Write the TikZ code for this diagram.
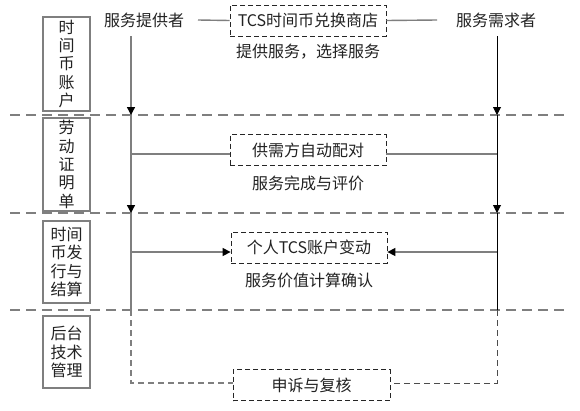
\documentclass[tikz,border=0pt]{standalone}
\usepackage{fontspec}
\setmainfont{Noto Sans CJK SC}
\usetikzlibrary{arrows.meta}
\definecolor{lgray}{HTML}{7F7F7F}
\definecolor{txt}{HTML}{222222}
\begin{document}
\begin{tikzpicture}[x=1pt,y=-1pt,
  every node/.style={text=txt,font=\fontsize{16pt}{18.3pt}\selectfont},
  sidebox/.style={draw=lgray,line width=1.3pt,minimum width=47pt,align=center,inner sep=0pt},
  dbox/.style={draw=black!85,dash pattern=on 5pt off 3pt,line width=0.8pt,minimum width=156pt,minimum height=31pt,inner sep=0pt},
  sep/.style={draw=lgray,line width=1.2pt,dash pattern=on 10pt off 6pt},
  glink/.style={draw=lgray,line width=1.4pt},
  tip/.style={-{Triangle[width=8pt,length=8pt,color=black]}}
]
\useasboundingbox (0,0) rectangle (580,410);
\fill[white] (0,0) rectangle (580,410);

% separators
\coordinate (s1a) at (10,115); \coordinate (s1b) at (568,115);
\coordinate (s2a) at (10,213); \coordinate (s2b) at (568,213);
\coordinate (s3a) at (10,310); \coordinate (s3b) at (568,310);
\draw[sep] (s1a) -- (s1b);
\draw[sep] (s2a) -- (s2b);
\draw[sep] (s3a) -- (s3b);

% side boxes
\node[sidebox,minimum height=94pt] (b1) at (66.5,64) {时\\间\\币\\账\\户};
\node[sidebox,minimum height=93pt] (b2) at (66.5,164.5) {劳\\动\\证\\明\\单};
\node[sidebox,minimum height=82pt] (b3) at (66.5,262) {时间\\币发\\行与\\结算};
\node[sidebox,minimum height=72pt] (b4) at (66.5,352) {后台\\技术\\管理};

% actors
\node (prov) at (144,20) {服务提供者};
\node (dem) at (496,20) {服务需求者};

% dashed boxes
\node[dbox] (shop) at (308,20.5) {TCS时间币兑换商店};
\node[dbox] (match) at (308,150) {供需方自动配对};
\node[dbox] (acct) at (309,247.5) {个人TCS账户变动};
\node[dbox,minimum width=157pt] (appeal) at (311.5,385) {申诉与复核};

% labels
\node (l1) at (308,52) {提供服务，选择服务};
\node (l2) at (308,183) {服务完成与评价};
\node (l3) at (309,280) {服务价值计算确认};

% top links
\draw[glink] (198,20) -- (shop.west);
\draw[glink] (shop.east) -- (437,20);

% left lane
\coordinate (L0) at (131,36);
\coordinate (L1) at (131,115);
\coordinate (L2) at (131,213);
\coordinate (L3) at (131,310);
\coordinate (L4) at (131,383);
\coordinate (Lm) at (131,154);
\coordinate (La) at (131,252);
\draw[glink,tip] (L0) -- (L1);
\draw[glink,tip] (L1) -- (L2);
\draw[glink] (L2) -- (L3);
\draw[glink,dash pattern=on 6pt off 4pt] (L3) -- (L4) -- (appeal.west |- L4);

% right lane
\coordinate (R0) at (497,36);
\coordinate (R1) at (497,115);
\coordinate (R2) at (497,213);
\coordinate (R3) at (497,310);
\coordinate (R4) at (497,383);
\coordinate (Rm) at (497,154);
\coordinate (Ra) at (497,252);
\draw[black,line width=0.9pt,tip] (R0) -- (R1);
\draw[black,line width=0.9pt,tip] (R1) -- (R2);
\draw[black,line width=0.9pt] (R2) -- (R3);
\draw[draw=black!70,line width=1pt,dash pattern=on 6pt off 4pt] (R3) -- (R4) -- (appeal.east |- R4);

% middle links
\draw[glink] (Lm) -- (match.west |- Lm);
\draw[glink] (Rm) -- (match.east |- Rm);
\draw[glink,tip] (La) -- (acct.west |- La);
\draw[glink,tip] (Ra) -- (acct.east |- Ra);
\end{tikzpicture}
\end{document}
